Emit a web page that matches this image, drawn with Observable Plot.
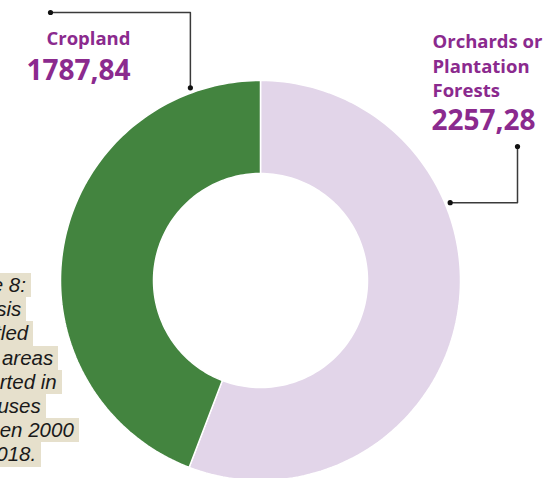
<!DOCTYPE html>
<html>
<head>
<meta charset="utf-8">
<script src="https://cdn.jsdelivr.net/npm/d3@7"></script>
<script src="https://cdn.jsdelivr.net/npm/@observablehq/plot@0.6"></script>
<style>
  html, body { margin: 0; padding: 0; background: #fff; overflow: hidden; }
  #wrap { position: relative; width: 545px; height: 478px; }
  #caption { position: absolute; left: -55px; top: 273px; font-family: "Liberation Sans", Arial, sans-serif; font-style: italic; font-size: 20.5px; line-height: 24.2px; color: #1a1a1a; }
  #caption div { width: fit-content; background: #e6e0cc; padding-right: 5px; }
</style>
</head>
<body>
<div id="wrap"></div>
<script>
// ---- data ----
const categories = ["Orchards or Plantation Forests", "Cropland"];
const values = [2257.28, 1787.84];
const valueLabels = ["2257,28", "1787,84"];
const labelLines = [["Orchards or", "Plantation", "Forests"], ["Cropland"]];
const colors = ["#e2d5e9", "#43843f"];
const captionLines = ["Figure 8:", "Analysis", "of settled", "forest areas", "converted in", "other uses", "between 2000", "and 2018."];

// ---- layout ----
const W = 545, H = 478;
const cx = 260, cy = 280, rOuter = 200, rInner = 107;
const purple = "#8b2a8e";

const rows = categories.map((c, i) => ({cat: c, value: values[i]}));
const arcs = d3.pie().sort(null).value(d => d.value)(rows);
const pt = (a, r) => ({x: cx + r * Math.sin(a), y: cy - r * Math.cos(a)});

const poly = [];
arcs.forEach(a => {
  const n = 120;
  for (let k = 0; k <= n; k++) {
    const t = a.startAngle + (a.endAngle - a.startAngle) * k / n;
    poly.push({cat: a.data.cat, ...pt(t, rOuter)});
  }
  for (let k = n; k >= 0; k--) {
    const t = a.startAngle + (a.endAngle - a.startAngle) * k / n;
    poly.push({cat: a.data.cat, ...pt(t, rInner)});
  }
});

// leader lines (annotation geometry)
const deg = Math.PI / 180;
const aOrch = pt(67.7 * deg, 205);
const aCrop = pt(-20 * deg, 205);
const leaders = [
  {id: "crop", x: 50, y: 12}, {id: "crop", x: aCrop.x, y: 12}, {id: "crop", x: aCrop.x, y: aCrop.y},
  {id: "orch", x: 517, y: 146}, {id: "orch", x: 517, y: aOrch.y}, {id: "orch", x: aOrch.x, y: aOrch.y}
];
const leaderDots = [leaders[0], leaders[2], leaders[3], leaders[5]];

const fsName = 18.5, fsVal = 28;
const rightNames = labelLines[0].map((t, i) => ({t, x: 432, y: 48 + i * 24.5 - 0.33 * fsName}));
const rightVal = [{t: valueLabels[0], x: 431, y: 130 - 0.33 * fsVal}];
const leftNames = [{t: labelLines[1][0], x: 130, y: 45 - 0.33 * fsName}];
const leftVal = [{t: valueLabels[1], x: 130, y: 80 - 0.33 * fsVal}];
const txt = (data, size, anchor) => Plot.text(data, {x: "x", y: "y", text: "t", textAnchor: anchor, fontSize: size, fontWeight: 700, fontFamily: "Open Sans", fill: purple});

const plot = Plot.plot({
  width: W, height: H,
  margin: 0,
  x: {domain: [0, W], range: [0, W], axis: null},
  y: {domain: [0, H], range: [0, H], axis: null},
  color: {domain: categories, range: colors},
  style: {background: "transparent"},
  marks: [
    Plot.line(poly, {x: "x", y: "y", z: "cat", fill: "cat", stroke: "#ffffff", strokeWidth: 1.5, curve: "linear-closed"}),
    Plot.line(leaders, {x: "x", y: "y", z: "id", stroke: "#3a3a3a", strokeWidth: 1.5}),
    Plot.dot(leaderDots, {x: "x", y: "y", r: 2.6, fill: "#111", stroke: null}),
    txt(rightNames, fsName, "start"),
    txt(rightVal, fsVal, "start"),
    txt(leftNames, fsName, "end"),
    txt(leftVal, fsVal, "end")
  ]
});
document.getElementById("wrap").appendChild(plot);

const cap = document.createElement("div");
cap.id = "caption";
captionLines.forEach(l => { const d = document.createElement("div"); d.textContent = l; cap.appendChild(d); });
document.getElementById("wrap").appendChild(cap);
</script>
</body>
</html>
